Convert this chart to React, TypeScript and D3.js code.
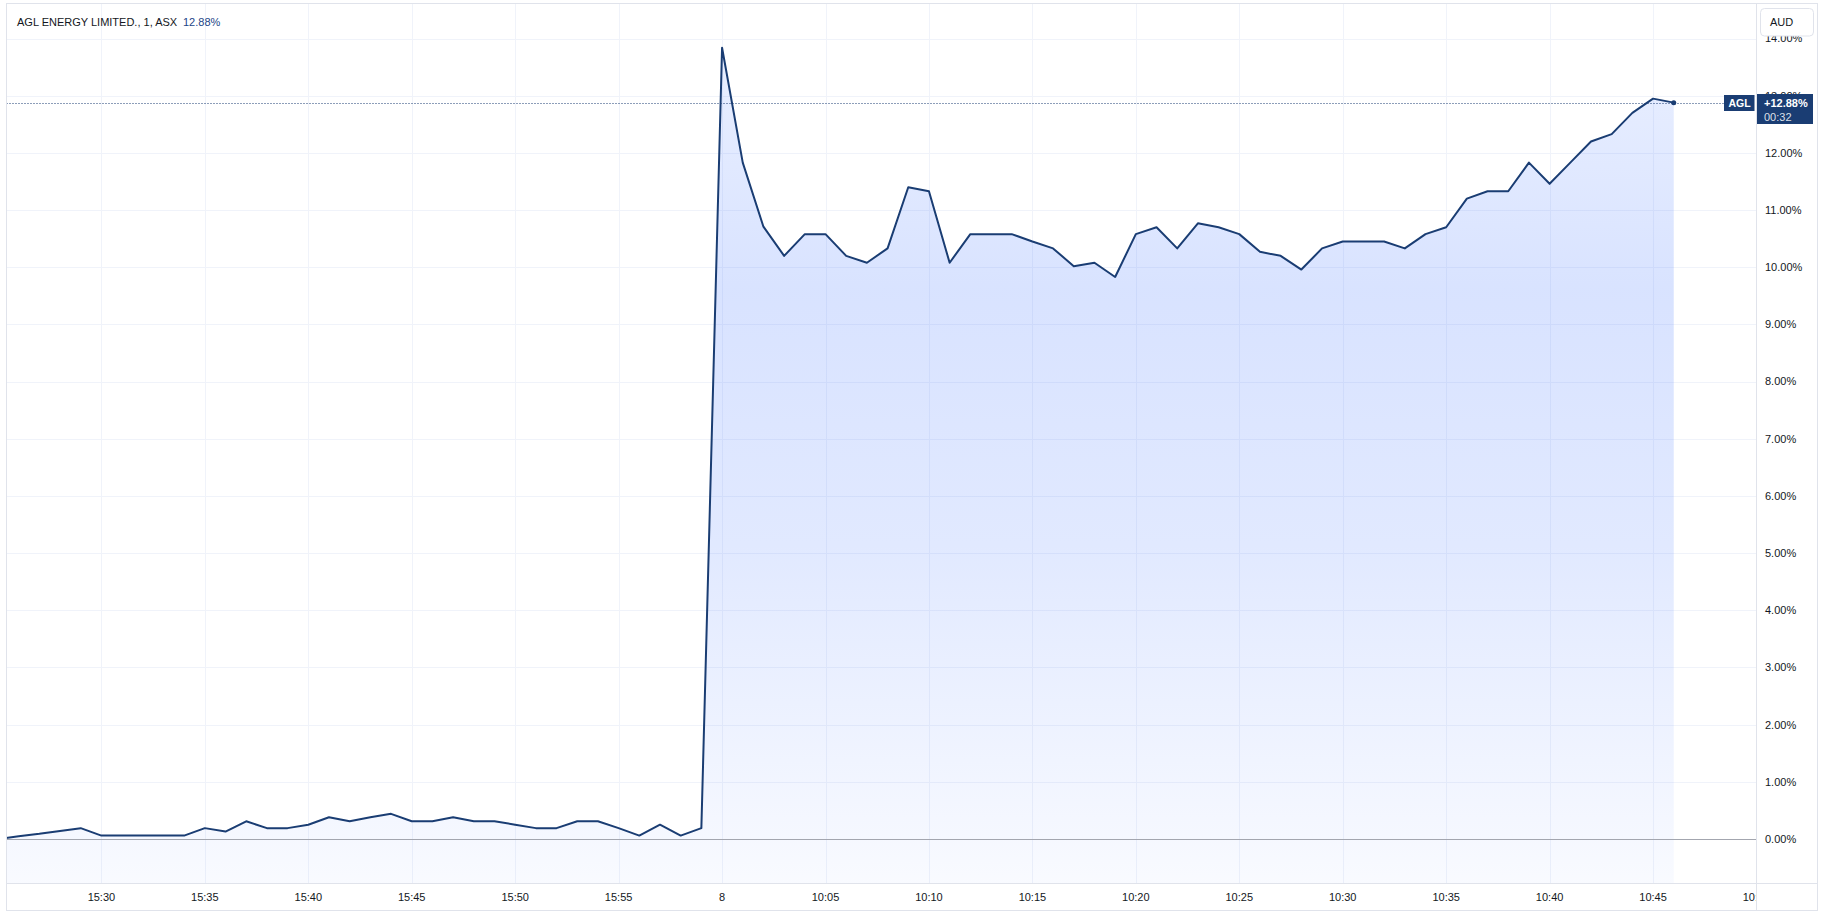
import React from "react";
import * as d3 from "d3";

// ---------- data ----------
const times: string[] = [
  "15:25", "15:26", "15:27", "15:28", "15:29", "15:30", "15:31", "15:32", "15:33", "15:34",
  "15:35", "15:36", "15:37", "15:38", "15:39", "15:40", "15:41", "15:42", "15:43", "15:44",
  "15:45", "15:46", "15:47", "15:48", "15:49", "15:50", "15:51", "15:52", "15:53", "15:54",
  "15:55", "15:56", "15:57", "15:58", "15:59",
  "10:00", "10:01", "10:02", "10:03", "10:04", "10:05", "10:06", "10:07", "10:08", "10:09",
  "10:10", "10:11", "10:12", "10:13", "10:14", "10:15", "10:16", "10:17", "10:18", "10:19",
  "10:20", "10:21", "10:22", "10:23", "10:24", "10:25", "10:26", "10:27", "10:28", "10:29",
  "10:30", "10:31", "10:32", "10:33", "10:34", "10:35", "10:36", "10:37", "10:38", "10:39",
  "10:40", "10:41", "10:42", "10:43", "10:44", "10:45", "10:46",
];

const pctChange: number[] = [
  0.0, 0.05, 0.09, 0.14, 0.19, 0.06, 0.06, 0.06, 0.06, 0.06,
  0.19, 0.13, 0.31, 0.19, 0.19, 0.25, 0.38, 0.31, 0.38, 0.44,
  0.31, 0.31, 0.38, 0.31, 0.31, 0.25, 0.19, 0.19, 0.31, 0.31,
  0.19, 0.06, 0.25, 0.06, 0.19,
  13.84, 11.83, 10.71, 10.2, 10.58, 10.58, 10.2, 10.08, 10.33, 11.4,
  11.33, 10.08, 10.58, 10.58, 10.58, 10.45, 10.33, 10.02, 10.08, 9.83,
  10.58, 10.7, 10.33, 10.77, 10.7, 10.58, 10.27, 10.2, 9.96, 10.33,
  10.45, 10.45, 10.45, 10.33, 10.58, 10.7, 11.2, 11.33, 11.33, 11.83,
  11.46, 11.83, 12.2, 12.33, 12.7, 12.95, 12.88,
];

const yTicks: number[] = [0, 1, 2, 3, 4, 5, 6, 7, 8, 9, 10, 11, 12, 13, 14];

const tickTimes: string[] = [
  "15:30", "15:35", "15:40", "15:45", "15:50", "15:55", "10:00", "10:05",
  "10:10", "10:15", "10:20", "10:25", "10:30", "10:35", "10:40", "10:45", "10:50",
];
const tickLabels: string[] = [
  "15:30", "15:35", "15:40", "15:45", "15:50", "15:55", "8", "10:05",
  "10:10", "10:15", "10:20", "10:25", "10:30", "10:35", "10:40", "10:45", "10:50",
];

const legendTitle = "AGL ENERGY LIMITED., 1, ASX";
const legendValue = "12.88%";
const currency = "AUD";
const symbolLabel = "AGL";
const lastValueLabel = "+12.88%";
const countdownLabel = "00:32";

// ---------- styles ----------
const FONT = "'Liberation Sans', Arial, sans-serif";
const LINE = "#1a3d73";
const GRID = "#f0f3fa";
const BORDER = "#e0e3eb";
const TEXT = "#131722";

const toMin = (t: string) => {
  const [h, m] = t.split(":").map(Number);
  return h * 60 + m;
};

export default function App() {
  const W = 1828;
  const H = 914;
  const frameL = 6.5, frameT = 3.5, frameR = 1817.5, frameB = 910.5;
  const paneR = 1756.5, paneB = 883.5;
  const n = pctChange.length;
  const rightOffsetBars = 4;

  const x = d3.scaleLinear().domain([0, n - 1 + rightOffsetBars]).range([-2.05, paneR]);
  const y = d3.scaleLinear().domain([0, 14]).range([839, 38.6]);

  const tickIndex = (t: string) => {
    const i = times.indexOf(t);
    if (i >= 0) return i;
    return n - 1 + (toMin(t) - toMin(times[n - 1]));
  };

  const lineGen = d3.line<number>().x((_, i) => x(i)).y((d) => y(d));
  const areaGen = d3.area<number>().x((_, i) => x(i)).y0(paneB).y1((d) => y(d));

  const lastV = pctChange[n - 1];
  const lastX = x(n - 1);
  const lastY = y(lastV);

  return (
    <div style={{ position: "absolute", left: 0, top: 0, width: W, height: H, background: "#fff" }}>
      <svg width={W} height={H} style={{ display: "block", fontFamily: FONT }}>
        <defs>
          <clipPath id="pane">
            <rect x={frameL} y={frameT} width={paneR - frameL} height={paneB - frameT} />
          </clipPath>
          <clipPath id="timeaxis">
            <rect x={frameL} y={paneB} width={paneR - frameL} height={frameB - paneB} />
          </clipPath>
          <linearGradient id="areaFill" gradientUnits="userSpaceOnUse" x1="0" y1={y(14)} x2="0" y2={paneB}>
            <stop offset="0" stopColor="rgb(41,98,255)" stopOpacity={0.1} />
            <stop offset="0.3" stopColor="rgb(41,98,255)" stopOpacity={0.18} />
            <stop offset="0.6" stopColor="rgb(41,98,255)" stopOpacity={0.14} />
            <stop offset="1" stopColor="rgb(41,98,255)" stopOpacity={0.03} />
          </linearGradient>
        </defs>

        {/* grid */}
        <g clipPath="url(#pane)">
          {tickTimes.map((t) => (
            <line key={"vg" + t} x1={Math.round(x(tickIndex(t))) + 0.5} x2={Math.round(x(tickIndex(t))) + 0.5}
              y1={frameT} y2={paneB} stroke={GRID} strokeWidth={1} />
          ))}
          {yTicks.map((v) => (
            <line key={"hg" + v} x1={frameL} x2={paneR} y1={Math.round(y(v)) + 0.5} y2={Math.round(y(v)) + 0.5}
              stroke={GRID} strokeWidth={1} />
          ))}
        </g>

        {/* area + line */}
        <g clipPath="url(#pane)">
          <path d={areaGen(pctChange) || ""} fill="url(#areaFill)" />
          <line x1={frameL} x2={paneR} y1={Math.round(y(0)) + 0.5} y2={Math.round(y(0)) + 0.5}
            stroke="#a3a6af" strokeWidth={1} />
          <path d={lineGen(pctChange) || ""} fill="none" stroke={LINE} strokeWidth={2} strokeLinejoin="round" />
          <line x1={frameL} x2={1724} y1={Math.round(lastY) + 0.5} y2={Math.round(lastY) + 0.5}
            stroke={LINE} strokeWidth={1} strokeDasharray="1,2" />
          <circle cx={lastX} cy={lastY} r={2.5} fill={LINE} />
        </g>

        {/* legend */}
        <text x={17} y={26} fontSize={11} fill={TEXT}>{legendTitle}</text>
        <text x={183} y={26} fontSize={11} fill="#1c4587">{legendValue}</text>

        {/* price axis labels */}
        {yTicks.map((v) => (
          <text key={"yl" + v} x={1765} y={y(v)} dy="0.35em" fontSize={11} fill={TEXT}>
            {v.toFixed(2) + "%"}
          </text>
        ))}

        {/* time axis labels */}
        <g clipPath="url(#timeaxis)">
          {tickTimes.map((t, i) => (
            <text key={"xl" + t} x={x(tickIndex(t))} y={897.5} dy="0.35em" fontSize={11} fill={TEXT}
              textAnchor="middle">
              {tickLabels[i]}
            </text>
          ))}
        </g>

        {/* frame */}
        <rect x={frameL} y={frameT} width={frameR - frameL} height={frameB - frameT} fill="none" stroke={BORDER} />
        <line x1={paneR} x2={paneR} y1={frameT} y2={frameB} stroke={BORDER} />
        <line x1={frameL} x2={frameR} y1={paneB} y2={paneB} stroke={BORDER} />

        {/* currency button */}
        <rect x={1760.5} y={8.5} width={53} height={27.5} rx={4} fill="#fff" stroke={BORDER} />
        <text x={1770} y={22} dy="0.35em" fontSize={11} fill={TEXT}>{currency}</text>

        {/* symbol label */}
        <rect x={1724} y={95} width={30.5} height={16} fill={LINE} />
        <text x={1739.5} y={103.3} dy="0.35em" fontSize={10.5} fontWeight={600} fill="#fff" textAnchor="middle">
          {symbolLabel}
        </text>

        {/* last value label */}
        <rect x={1757} y={94} width={56} height={30} fill={LINE} />
        <text x={1764} y={103} dy="0.35em" fontSize={11} fontWeight={700} fill="#fff">{lastValueLabel}</text>
        <text x={1764} y={117} dy="0.35em" fontSize={11} fill="#fff" fillOpacity={0.85}>{countdownLabel}</text>
      </svg>
    </div>
  );
}
